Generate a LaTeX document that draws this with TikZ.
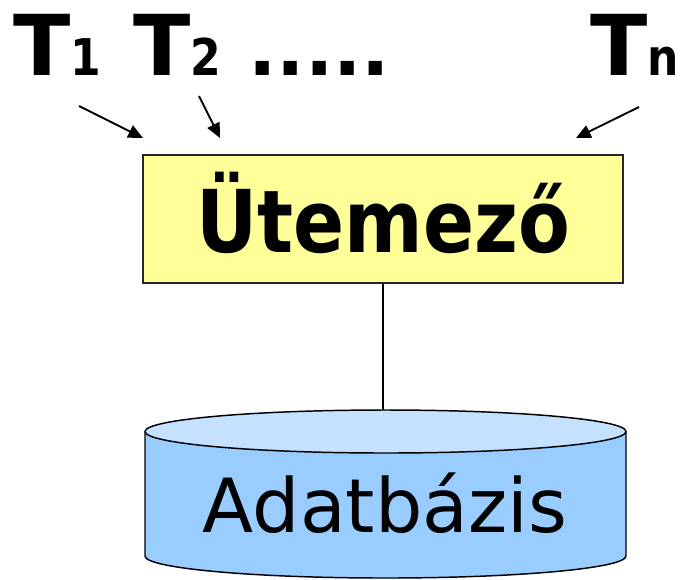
\documentclass[tikz,border=0pt]{standalone}
\usepackage{fontspec}
\setmainfont{DejaVu Sans}
\newfontfamily\narrowbold{DejaVu Sans}[FakeStretch=0.87]
\usetikzlibrary{arrows.meta}
\definecolor{schedfill}{HTML}{FFFF99}
\definecolor{dbbody}{HTML}{99CCFF}
\definecolor{dbtop}{HTML}{C4E2FF}
\def\tsub#1{{\narrowbold\bfseries\fontsize{38}{38}\selectfont#1}}

\begin{document}
\begin{tikzpicture}[x=0.75pt,y=-0.75pt,
    tname/.style={font=\bfseries\fontsize{63}{63}\selectfont,inner sep=0pt,anchor=base west},
    feed/.style={line width=1.4pt,-{Triangle[length=11pt,width=10pt]}}]
  \useasboundingbox (0,0) rectangle (680,579);
  % transactions
  \node[tname] (t1) at (13,75) {T\tsub{1}};
  \node[tname] (t2) at (133,75) {T\tsub{2}};
  \node[tname,font=\bfseries\fontsize{56}{56}\selectfont] (dots) at (248,75) {.....};
  \node[tname] (tn) at (590,75) {T\tsub{n}};
  \coordinate (a1s) at (79,106);  \coordinate (a1e) at (143,138);
  \coordinate (a2s) at (199,96);  \coordinate (a2e) at (220,138);
  \coordinate (a3s) at (639,107); \coordinate (a3e) at (576,138);
  \draw[feed] (a1s) -- (a1e);
  \draw[feed] (a2s) -- (a2e);
  \draw[feed] (a3s) -- (a3e);
  % scheduler
  \node[draw=black!85,line width=1.5pt,fill=schedfill,minimum width=360pt,minimum height=96pt,
        inner sep=0pt] (sched) at (383,219) {};
  \node[inner sep=0pt,anchor=base,font=\narrowbold\bfseries\fontsize{65}{65}\selectfont] (schedtext) at (383,252) {Ütemező};
  % database
  \coordinate (dbin) at (383,410);
  \draw[line width=1.1pt,fill=dbbody] (145,431.5) -- (145,556)
    arc[start angle=180,end angle=0,x radius=240.5,y radius=22] -- (626,431.5);
  \draw[line width=1.1pt,fill=dbtop] (385.5,431.5) ellipse[x radius=240.5,y radius=21.5];
  \node[inner sep=0pt,anchor=base,font=\fontsize{56}{56}\selectfont] (db) at (385,532) {Adatbázis};
  \draw[line width=1.1pt] (sched) -- (dbin);
\end{tikzpicture}
\end{document}
